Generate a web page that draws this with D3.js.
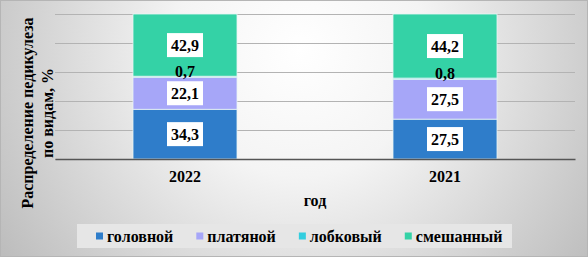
<!DOCTYPE html>
<html>
  <head>
    <meta charset="UTF-8" />
    <script src="https://d3js.org/d3.v7.min.js"></script>
    <style>
      body { margin: 0; }
    </style>
  </head>
  <body>
    <div id="my_dataviz"></div>

    <script>
      // data
      var years = ["2022", "2021"];
      var golovnoy = [34.3, 27.5];
      var platyanoy = [22.1, 27.5];
      var lobkovy = [0.7, 0.8];
      var smeshanny = [42.9, 44.2];
      var seriesNames = ["головной", "платяной", "лобковый", "смешанный"];
      var yTicks = [0, 20, 40, 60, 80, 100];

      var colors = ["#2f7dca", "#a6a6f8", "#33cedf", "#34d2a6"];

      var width = 588,
        height = 257;
      var plot = { left: 55, right: 575, top: 14, bottom: 159 };

      var svg = d3
        .select("#my_dataviz")
        .append("svg")
        .attr("width", width)
        .attr("height", height);

      // every text gets its font set on itself
      function serifText(sel) {
        return sel
          .attr("font-family", "Liberation Serif")
          .attr("font-weight", "bold")
          .attr("font-size", 16)
          .attr("fill", "#000");
      }

      // background
      var grad = svg
        .append("defs")
        .append("radialGradient")
        .attr("id", "bg")
        .attr("gradientUnits", "userSpaceOnUse")
        .attr("cx", 300)
        .attr("cy", 50)
        .attr("r", 360);
      grad.append("stop").attr("offset", 0).attr("stop-color", "#ffffff");
      grad.append("stop").attr("offset", 0.35).attr("stop-color", "#f4f4f4");
      grad.append("stop").attr("offset", 1).attr("stop-color", "#bdbdbd");

      svg
        .append("rect")
        .attr("x", 0.5)
        .attr("y", 0.5)
        .attr("width", width - 1)
        .attr("height", height - 1)
        .attr("fill", "url(#bg)")
        .attr("stroke", "#b5b5b5");

      var rows = years.map((y, i) => ({
        year: y,
        "головной": golovnoy[i],
        "платяной": platyanoy[i],
        "лобковый": lobkovy[i],
        "смешанный": smeshanny[i],
      }));
      var stacked = d3.stack().keys(seriesNames)(rows);

      var xScale = d3
        .scaleBand()
        .domain(years)
        .range([plot.left, plot.right])
        .paddingInner(0.6)
        .paddingOuter(0.3);
      var yScale = d3.scaleLinear().domain([0, 100]).range([plot.bottom, plot.top]);

      // gridlines
      var yAxis = svg
        .append("g")
        .attr("transform", "translate(" + plot.left + ",0)")
        .call(
          d3
            .axisLeft(yScale)
            .tickValues(yTicks)
            .tickSize(-(plot.right - plot.left))
            .tickFormat("")
        );
      yAxis.select(".domain").remove();
      yAxis.selectAll(".tick line").attr("stroke", "#b3b3b3");

      // bars
      var layer = svg
        .selectAll(".layer")
        .data(stacked)
        .join("g")
        .attr("fill", (d, i) => colors[i]);

      layer
        .selectAll("rect")
        .data((d) => d.map((v) => ({ v: v, key: d.key })))
        .join("rect")
        .attr("x", (d) => xScale(d.v.data.year))
        .attr("y", (d) => yScale(d.v[1]))
        .attr("width", xScale.bandwidth())
        .attr("height", (d) => yScale(d.v[0]) - yScale(d.v[1]))
        .attr("stroke", "#e8f4f4")
        .attr("stroke-width", 0.8);

      // baseline
      var xAxis = svg
        .append("g")
        .attr("transform", "translate(0," + plot.bottom + ")")
        .call(d3.axisBottom(xScale).tickSize(0).tickPadding(12));
      xAxis.select(".domain").attr("stroke", "#555").attr("stroke-width", 1.5);
      serifText(xAxis.selectAll("text"));

      // value labels
      stacked.forEach((s) => {
        s.forEach((v) => {
          var cx = xScale(v.data.year) + xScale.bandwidth() / 2;
          var cy = (yScale(v[0]) + yScale(v[1])) / 2;
          var label = String(v.data[s.key]).replace(".", ",");
          var g = svg.append("g");
          if (s.key === "лобковый") cy -= 5;
          var t = serifText(
            g
              .append("text")
              .attr("x", cx)
              .attr("y", cy)
              .attr("dy", "0.35em")
              .attr("text-anchor", "middle")
          ).text(label);
          if (s.key !== "лобковый") {
            var w = t.node().getComputedTextLength();
            g.insert("rect", "text")
              .attr("x", cx - w / 2 - 4)
              .attr("y", cy - 12)
              .attr("width", w + 8)
              .attr("height", 24)
              .attr("fill", "#fff");
          }
        });
      });

      // axis titles
      serifText(
        svg
          .append("text")
          .attr("x", (plot.left + plot.right) / 2)
          .attr("y", 206)
          .attr("text-anchor", "middle")
      ).text("год");

      serifText(
        svg
          .append("text")
          .attr("transform", "translate(27,113) rotate(-90)")
          .attr("text-anchor", "middle")
          .attr("dy", "0.35em")
      ).text("Распределение педикулеза");
      serifText(
        svg
          .append("text")
          .attr("transform", "translate(47,113) rotate(-90)")
          .attr("text-anchor", "middle")
          .attr("dy", "0.35em")
      ).text("по видам, %");

      // legend
      svg
        .append("rect")
        .attr("x", 77)
        .attr("y", 224)
        .attr("width", 435)
        .attr("height", 24)
        .attr("fill", "#e6e6e6");

      var lx = 96;
      seriesNames.forEach((name, i) => {
        svg
          .append("rect")
          .attr("x", lx)
          .attr("y", 232.5)
          .attr("width", 7)
          .attr("height", 7)
          .attr("fill", colors[i]);
        var t = serifText(
          svg
            .append("text")
            .attr("x", lx + 11)
            .attr("y", 236)
            .attr("dy", "0.35em")
        ).text(name);
        lx += 11 + t.node().getComputedTextLength() + 23;
      });
    </script>
  </body>
</html>
